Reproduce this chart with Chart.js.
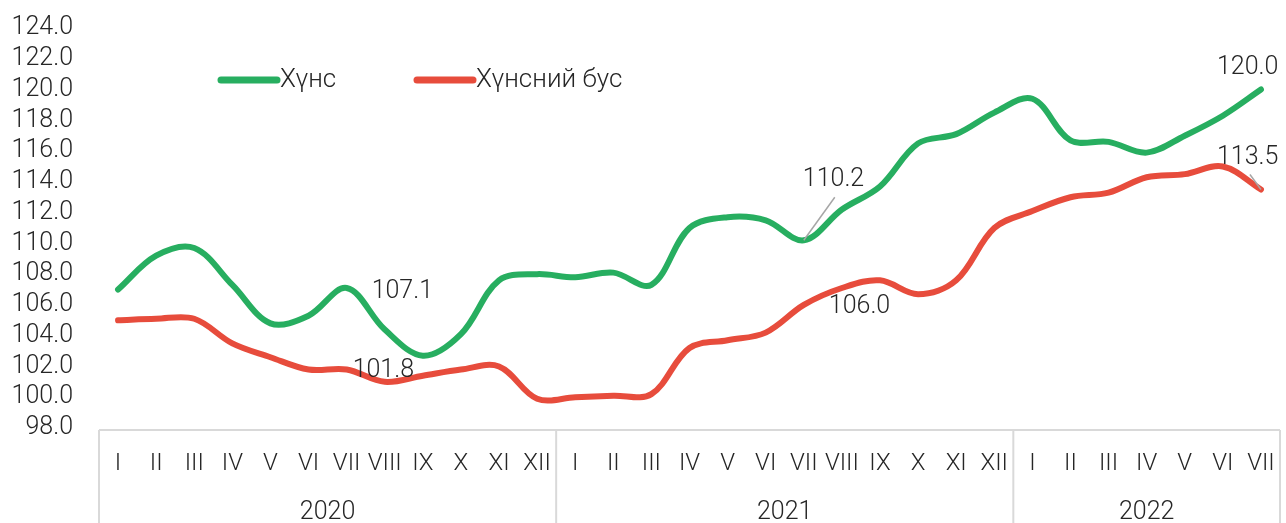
<!DOCTYPE html>
<html>
<head>
<meta charset="utf-8">
<script src="https://cdn.jsdelivr.net/npm/chart.js@4.4.1/dist/chart.umd.min.js"></script>
<style>
  html, body { margin: 0; padding: 0; background: #fff; }
  #wrap { width: 1286px; height: 523px; }
</style>
</head>
<body>
<div id="wrap"><canvas id="chart" width="1286" height="523"></canvas></div>
<script>
// ===== Data =====
const months = [
  "I", "II", "III", "IV", "V", "VI", "VII", "VIII", "IX", "X", "XI", "XII",
  "I", "II", "III", "IV", "V", "VI", "VII", "VIII", "IX", "X", "XI", "XII",
  "I", "II", "III", "IV", "V", "VI", "VII",
];
const yearLabels = ["2020", "2021", "2022"];
const monthsPerYear = [12, 12, 7];

const foodValues = [
  107.0, 109.2, 109.7, 107.3, 104.8, 105.3, 107.1, 104.4, 102.7, 104.1, 107.6, 108.0,
  107.8, 108.1, 107.3, 111.0, 111.7, 111.5, 110.2, 112.2, 113.7, 116.5, 117.1, 118.5,
  119.4, 116.7, 116.6, 115.9, 117.0, 118.3, 120.0,
];
const nonFoodValues = [
  105.0, 105.1, 105.1, 103.5, 102.6, 101.8, 101.8, 101.0, 101.4, 101.8, 102.0, 99.9,
  100.0, 100.1, 100.2, 103.2, 103.7, 104.2, 106.0, 107.1, 107.6, 106.7, 107.6, 111.0,
  112.1, 113.0, 113.3, 114.3, 114.5, 115.0, 113.5,
];
const seriesNames = ["Хүнс", "Хүнсний бус"];

const yMin = 98;
const yMax = 124;
const yStep = 2;

// which points get a value label: [dataset, index]
const labelledPoints = [
  [0, 6], [1, 6], [0, 18], [1, 18], [0, 30], [1, 30],
];

// ===== Styles =====
const GREEN = "#27ae60";
const RED = "#e74c3c";
const TEXT = "#262626";
const FRAME = "#d9d9d9";
const FONT = "Roboto";

// label placement relative to its point (px): text offset and optional leader end
const labelOffsets = [
  { dx: 25, dy: 10 },
  { dx: 6, dy: 7 },
  { dx: -1, dy: -54, leader: { dx: 31, dy: -43 } },
  { dx: 25, dy: 8 },
  { dx: -44, dy: -16 },
  { dx: -44, dy: -26, leader: { dx: -11, dy: -15 } },
];

Chart.defaults.font.family = FONT;
Chart.defaults.color = TEXT;

/**
 * Draws the legend inside the plot area, top left.
 */
const insideLegend = {
  id: "insideLegend",
  afterDraw(chart) {
    const { ctx, chartArea } = chart;
    const items = [
      { x: chartArea.left + 122, color: GREEN, text: seriesNames[0] },
      { x: chartArea.left + 318, color: RED, text: seriesNames[1] },
    ];
    const y = 80;
    ctx.save();
    ctx.lineWidth = 7;
    ctx.lineCap = "round";
    ctx.font = `300 26px ${FONT}`;
    ctx.textBaseline = "middle";
    ctx.fillStyle = TEXT;
    items.forEach((it) => {
      ctx.strokeStyle = it.color;
      ctx.beginPath();
      ctx.moveTo(it.x, y);
      ctx.lineTo(it.x + 56, y);
      ctx.stroke();
      ctx.fillText(it.text, it.x + 59, y);
    });
    ctx.restore();
  },
};

/**
 * Value labels with optional leader lines.
 */
const valueLabels = {
  id: "valueLabels",
  afterDatasetsDraw(chart) {
    const { ctx } = chart;
    ctx.save();
    ctx.font = `300 25px ${FONT}`;
    ctx.textBaseline = "alphabetic";
    ctx.textAlign = "left";
    labelledPoints.forEach(([ds, idx], i) => {
      const pt = chart.getDatasetMeta(ds).data[idx];
      const off = labelOffsets[i];
      const value = chart.data.datasets[ds].data[idx];
      if (off.leader) {
        ctx.strokeStyle = "#a6a6a6";
        ctx.lineWidth = 1.5;
        ctx.beginPath();
        ctx.moveTo(pt.x, pt.y);
        ctx.lineTo(pt.x + off.leader.dx, pt.y + off.leader.dy);
        ctx.stroke();
      }
      ctx.fillStyle = TEXT;
      ctx.fillText(value.toFixed(1), pt.x + off.dx, pt.y + off.dy);
    });
    ctx.restore();
  },
};

/**
 * Category frame and year groups under the month labels.
 */
const yearGroups = {
  id: "yearGroups",
  afterDraw(chart) {
    const { ctx, chartArea } = chart;
    const xScale = chart.scales.x;
    const top = chartArea.bottom + 2;
    const bottom = chart.height;

    const bounds = [xScale.left];
    let idx = 0;
    monthsPerYear.forEach((n, i) => {
      idx += n;
      if (i < monthsPerYear.length - 1) {
        bounds.push(
          (xScale.getPixelForTick(idx - 1) + xScale.getPixelForTick(idx)) / 2
        );
      }
    });
    bounds.push(xScale.right);

    ctx.save();
    ctx.strokeStyle = FRAME;
    ctx.lineWidth = 2;
    ctx.beginPath();
    ctx.moveTo(xScale.left, top);
    ctx.lineTo(xScale.right, top);
    bounds.forEach((bx) => {
      ctx.moveTo(bx, top);
      ctx.lineTo(bx, bottom);
    });
    ctx.stroke();

    ctx.fillStyle = TEXT;
    ctx.font = `300 25px ${FONT}`;
    ctx.textAlign = "center";
    ctx.textBaseline = "middle";
    yearLabels.forEach((label, i) => {
      ctx.fillText(label, (bounds[i] + bounds[i + 1]) / 2, 513);
    });
    ctx.restore();
  },
};

const lineStyle = {
  borderWidth: 6,
  pointRadius: 0,
  pointHoverRadius: 0,
  tension: 0.35,
  borderCapStyle: "round",
  borderJoinStyle: "round",
  fill: false,
};

new Chart(document.getElementById("chart"), {
  type: "line",
  data: {
    labels: months,
    datasets: [
      { label: seriesNames[0], data: foodValues, borderColor: GREEN, backgroundColor: GREEN, ...lineStyle },
      { label: seriesNames[1], data: nonFoodValues, borderColor: RED, backgroundColor: RED, ...lineStyle },
    ],
  },
  options: {
    responsive: false,
    animation: false,
    devicePixelRatio: 1,
    layout: { padding: { top: 28, right: 6, left: 0, bottom: 0 } },
    plugins: {
      legend: { display: false },
      tooltip: { enabled: false },
    },
    scales: {
      x: {
        offset: true,
        grid: { display: false, drawTicks: false },
        border: { display: false },
        ticks: {
          autoSkip: false,
          maxRotation: 0,
          minRotation: 0,
          padding: 22,
          color: TEXT,
          font: { size: 24, weight: 300 },
        },
        afterFit: (scale) => {
          scale.height = 95;
          scale.paddingLeft = 0;
          scale.paddingRight = 0;
        },
      },
      y: {
        min: yMin,
        max: yMax,
        grid: { display: false, drawTicks: false },
        border: { display: false },
        ticks: {
          stepSize: yStep,
          autoSkip: false,
          padding: 26,
          color: TEXT,
          font: { size: 25, weight: 300 },
          callback: (v) => Number(v).toFixed(1),
        },
        afterFit: (scale) => {
          scale.width = 99;
          scale.paddingTop = 0;
          scale.paddingBottom = 0;
        },
      },
    },
  },
  plugins: [insideLegend, valueLabels, yearGroups],
});
</script>
</body>
</html>
